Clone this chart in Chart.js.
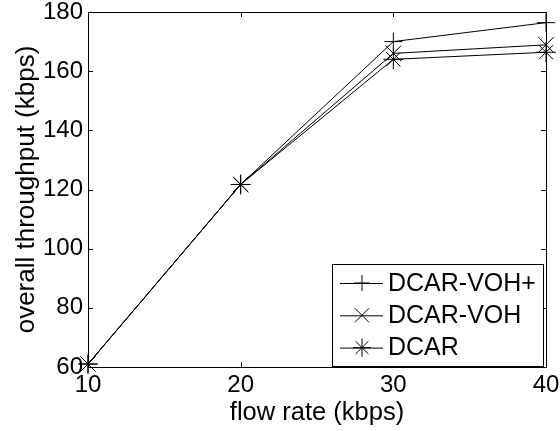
<!DOCTYPE html>
<html>
<head>
<meta charset="utf-8">
<script src="https://cdn.jsdelivr.net/npm/chart.js@4/dist/chart.umd.min.js"></script>
<style>
  html, body { margin: 0; padding: 0; background: #fff; }
  #wrap { width: 560px; height: 431px; }
</style>
</head>
<body>
<div id="wrap"><canvas id="c" width="560" height="431"></canvas></div>
<script>
const flowRates = [10, 20, 30, 40];
const dcarVohPlus = [61, 121.7, 170, 176.4];
const dcarVoh = [61, 121.7, 166, 168.9];
const dcar = [61, 121.7, 164, 166.4];
const seriesNames = ['DCAR-VOH+', 'DCAR-VOH', 'DCAR'];
const xTicks = [10, 20, 30, 40];
const yTicks = [60, 80, 100, 120, 140, 160, 180];

const FONT = "'Liberation Sans', Arial, sans-serif";

const toPts = (ys) => flowRates.map((x, i) => ({ x: x, y: ys[i] }));

const styles = [
  { pointStyle: 'cross', radius: 9 },
  { pointStyle: 'crossRot', radius: 11 },
  { pointStyle: 'star', radius: 10 }
];

const zeroPad = (s) => { s.paddingTop = 0; s.paddingBottom = 0; s.paddingLeft = 0; s.paddingRight = 0; };

const innerTicks = {
  id: 'innerTicks',
  afterDraw(chart) {
    const { ctx, chartArea: a, scales } = chart;
    ctx.save();
    ctx.strokeStyle = '#000';
    ctx.lineWidth = 1;
    ctx.beginPath();
    yTicks.forEach(v => {
      const y = Math.round(scales.y.getPixelForValue(v)) + 0.5;
      ctx.moveTo(a.left, y); ctx.lineTo(a.left + 5, y);
      ctx.moveTo(a.right, y); ctx.lineTo(a.right - 5, y);
    });
    xTicks.forEach(v => {
      const x = Math.round(scales.x.getPixelForValue(v)) + 0.5;
      ctx.moveTo(x, a.bottom); ctx.lineTo(x, a.bottom - 5);
      ctx.moveTo(x, a.top); ctx.lineTo(x, a.top + 5);
    });
    ctx.stroke();
    ctx.restore();
  }
};

const boxLegend = {
  id: 'boxLegend',
  afterDraw(chart) {
    const { ctx, chartArea: a } = chart;
    const bx = a.left + 244, by = a.top + 252, bw = 211, bh = 102;
    ctx.save();
    ctx.fillStyle = '#fff';
    ctx.fillRect(bx, by, bw, bh);
    ctx.strokeStyle = '#000';
    ctx.lineWidth = 1;
    ctx.strokeRect(bx + 0.5, by + 0.5, bw, bh);
    ctx.font = '25px ' + FONT;
    ctx.textBaseline = 'middle';
    ctx.textAlign = 'left';
    chart.data.datasets.forEach((ds, i) => {
      const cy = by + 19 + i * 32.3;
      ctx.strokeStyle = '#000';
      ctx.lineWidth = 1;
      ctx.beginPath();
      ctx.moveTo(bx + 8, cy + 0.5); ctx.lineTo(bx + 51, cy + 0.5);
      ctx.stroke();
      Chart.helpers.drawPoint(ctx, {
        pointStyle: ds.pointStyle, radius: ds.pointRadius - 1, borderWidth: 1, rotation: 0
      }, bx + 30, cy);
      ctx.fillStyle = '#000';
      ctx.fillText(ds.label, bx + 56, cy + 1);
    });
    ctx.restore();
  }
};

new Chart(document.getElementById('c'), {
  type: 'line',
  data: {
    datasets: [dcarVohPlus, dcarVoh, dcar].map((vals, i) => ({
      label: seriesNames[i],
      data: toPts(vals),
      borderColor: '#000',
      backgroundColor: '#000',
      borderWidth: 1,
      pointStyle: styles[i].pointStyle,
      pointRadius: styles[i].radius,
      pointBorderColor: '#000',
      pointBorderWidth: 1,
      pointHoverRadius: styles[i].radius,
      tension: 0,
      clip: false
    }))
  },
  options: {
    responsive: false,
    animation: false,
    events: [],
    layout: { padding: { left: 0, right: 14, top: 12, bottom: 0 } },
    plugins: {
      legend: { display: false },
      tooltip: { enabled: false }
    },
    scales: {
      x: {
        type: 'linear',
        min: 10, max: 40,
        afterBuildTicks: (s) => { s.ticks = xTicks.map(v => ({ value: v })); },
        afterFit: (s) => { s.height = 64; zeroPad(s); },
        grid: { display: false, drawTicks: false },
        border: { display: true, color: '#000', width: 1 },
        ticks: { color: '#000', padding: 4, font: { family: FONT, size: 24 }, maxRotation: 0 },
        title: { display: true, text: 'flow rate (kbps)', color: '#000', font: { family: FONT, size: 25.5 }, padding: { top: 0, bottom: 2.7 } }
      },
      y: {
        type: 'linear',
        min: 60, max: 180,
        afterBuildTicks: (s) => { s.ticks = yTicks.map(v => ({ value: v })); },
        afterFit: (s) => { s.width = 88; zeroPad(s); },
        grid: { display: false, drawTicks: false },
        border: { display: true, color: '#000', width: 1 },
        ticks: { color: '#000', padding: 5, font: { family: FONT, size: 24 } },
        title: { display: true, text: 'overall throughput (kbps)', color: '#000', font: { family: FONT, size: 26 }, padding: { top: 11.5, bottom: 0 } }
      },
      x2: {
        type: 'linear', position: 'top', min: 10, max: 40,
        grid: { display: false, drawTicks: false },
        border: { display: true, color: '#000', width: 1 },
        ticks: { display: false },
        afterFit: (s) => { s.height = 0; zeroPad(s); }
      },
      y2: {
        type: 'linear', position: 'right', min: 60, max: 180,
        grid: { display: false, drawTicks: false },
        border: { display: true, color: '#000', width: 1 },
        ticks: { display: false },
        afterFit: (s) => { s.width = 0; zeroPad(s); }
      }
    }
  },
  plugins: [innerTicks, boxLegend]
});
</script>
</body>
</html>
